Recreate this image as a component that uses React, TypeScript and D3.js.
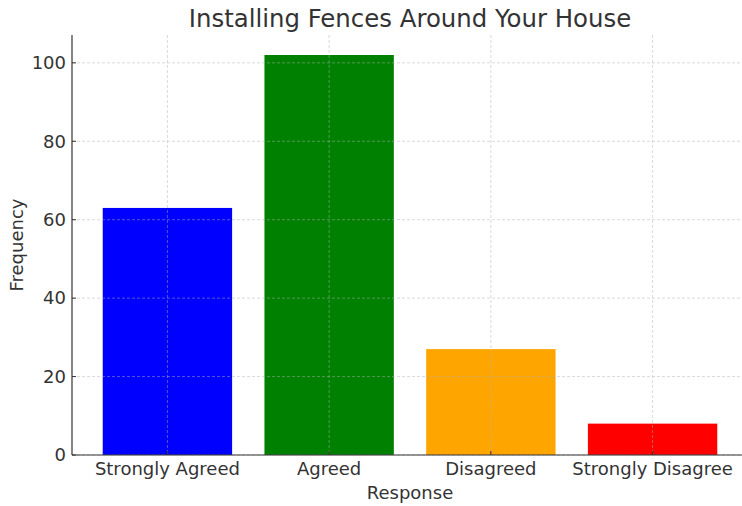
import React from "react";
import * as d3 from "d3";

const categories = ["Strongly Agreed", "Agreed", "Disagreed", "Strongly Disagree"];
const frequencies = [63, 102, 27, 8];
const barColors = ["#0000ff", "#008000", "#ffa500", "#ff0000"];
const yTicks = [0, 20, 40, 60, 80, 100];

const W = 742;
const H = 506;
const left = 72;
const right = 748;
const top = 35;
const bottom = 455;
const font = "DejaVu Sans, sans-serif";
const ink = "#333333";

export default function App() {
  const n = categories.length;
  // Linear index scale with matplotlib-style 5% margins around the bars
  const pad = 0.05 * (n - 1 + 0.8);
  const x = d3.scaleLinear().domain([-0.4 - pad, n - 1 + 0.4 + pad]).range([left, right]);
  const yMax = d3.max(frequencies)! * 1.05;
  const y = d3.scaleLinear().domain([0, yMax]).range([bottom, top]);
  const barW = x(0.8) - x(0);

  return (
    <svg width={W} height={H} style={{ position: "absolute", left: 0, top: 0, background: "#fff" }}>
      {categories.map((c, i) => (
        <rect
          key={c}
          x={x(i) - barW / 2}
          y={y(frequencies[i])}
          width={barW}
          height={bottom - y(frequencies[i])}
          fill={barColors[i]}
        />
      ))}
      {/* grid over bars */}
      <g stroke="#b0b0b0" strokeOpacity={0.6} strokeWidth={0.8} strokeDasharray="3,2">
        {yTicks.map((t) => (
          <line key={"gy" + t} x1={left} x2={right} y1={y(t)} y2={y(t)} />
        ))}
        {categories.map((c, i) => (
          <line key={"gx" + c} x1={x(i)} x2={x(i)} y1={top} y2={bottom} />
        ))}
      </g>
      {/* spines */}
      <line x1={left} x2={left} y1={top} y2={bottom} stroke={ink} strokeWidth={1.2} />
      <line x1={left} x2={right} y1={bottom} y2={bottom} stroke={ink} strokeWidth={1.2} />
      {/* ticks */}
      {yTicks.map((t) => (
        <g key={"ty" + t}>
          <line x1={left} x2={left + 4} y1={y(t)} y2={y(t)} stroke={ink} strokeWidth={1} />
          <text x={left - 6} y={y(t)} dy="0.35em" textAnchor="end" fontFamily={font} fontSize={18} fill={ink}>
            {t}
          </text>
        </g>
      ))}
      {categories.map((c, i) => (
        <g key={"tx" + c}>
          <line x1={x(i)} x2={x(i)} y1={bottom} y2={bottom - 4} stroke={ink} strokeWidth={1} />
          <text x={x(i)} y={bottom + 20} textAnchor="middle" fontFamily={font} fontSize={18} fill={ink}>
            {c}
          </text>
        </g>
      ))}
      <text x={(left + right) / 2} y={499} textAnchor="middle" fontFamily={font} fontSize={18} fill={ink}>
        Response
      </text>
      <text
        transform={`translate(23, ${(top + bottom) / 2}) rotate(-90)`}
        textAnchor="middle"
        fontFamily={font}
        fontSize={18}
        fill={ink}
      >
        Frequency
      </text>
      <text x={(left + right) / 2} y={27} textAnchor="middle" fontFamily={font} fontSize={24.4} fill={ink}>
        Installing Fences Around Your House
      </text>
    </svg>
  );
}
